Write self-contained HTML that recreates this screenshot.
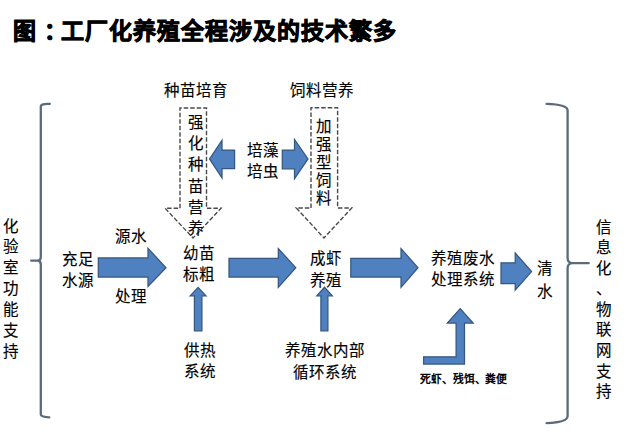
<!DOCTYPE html>
<html lang="zh-CN">
<head>
<meta charset="utf-8">
<style>
html,body{margin:0;padding:0;background:#fff;}
body{width:640px;height:442px;position:relative;overflow:hidden;font-family:"Liberation Sans",sans-serif;color:#000;}
.t{position:absolute;margin-top:2px;-webkit-text-stroke:0.15px #000;font-size:15.5px;line-height:21.2px;white-space:nowrap;}
.v{position:absolute;margin-top:2px;-webkit-text-stroke:0.15px #000;font-size:15.5px;width:16px;text-align:center;white-space:normal;word-break:break-all;}
svg{position:absolute;left:0;top:0;}
</style>
</head>
<body>
<svg width="640" height="442" viewBox="0 0 640 442">
  <g fill="none" stroke="#5a6c7b" stroke-width="2.3" stroke-linecap="round">
    <path d="M49.8 103.9 Q40.8 103.4 40.8 106.5 L40.8 257 Q40.8 260.7 37.5 260.7 L31.2 260.7 M37.5 260.7 Q40.8 260.8 40.8 264.5 L40.8 414.5 Q40.8 417 49.3 417.3"/>
    <path d="M546.6 103.9 Q567.6 104.5 567.6 110.5 L567.6 258 Q567.6 263 572.5 263.1 L588.7 263.2 M572.5 263.1 Q567.6 263.3 567.6 268.3 L567.6 416 Q567.6 422.5 546.6 423.1"/>
  </g>
  <g fill="none" stroke="#4a4a4a" stroke-width="1.4" stroke-dasharray="4.5 2">
    <path d="M180 208.3 L180 108 L206.5 108 L206.5 208.3 L221 208.3 L193 238 L165.2 208.3 Z"/>
    <path d="M311 208 L311 107.7 L337.6 107.7 L337.6 208 L351.7 208 L324 238 L296.3 208 Z"/>
  </g>
  <g fill="#4f81c0" stroke="#36577f" stroke-width="1.25" stroke-linejoin="miter">
    <path d="M98.3 257.9 L148 257.9 L148 248.3 L166 267.7 L148 286.5 L148 277 L98.3 277 Z"/>
    <path d="M229 258.4 L278.3 258.4 L278.3 248.6 L295.8 267.7 L278.3 287.3 L278.3 277 L229 277 Z"/>
    <path d="M350.8 258.4 L401 258.4 L401 248.6 L418 267.7 L401 287.3 L401 277 L350.8 277 Z"/>
    <path d="M501 262.8 L515.2 262.8 L515.2 253 L531.6 271.6 L515.2 290.2 L515.2 283.6 L501 283.6 Z"/>
    <path d="M234.6 150 L222 150 L222 140.3 L209.5 158.9 L222 178 L222 168.5 L234.6 168.5 Z"/>
    <path d="M282.3 150 L294.5 150 L294.5 139.5 L308 158.9 L294.5 178.8 L294.5 168.8 L282.3 168.8 Z"/>
    <path d="M194.4 330.8 L194.4 295.8 L190.2 295.8 L198.1 287.3 L206 295.8 L201.9 295.8 L201.9 330.8 Z"/>
    <path d="M320.9 330.8 L320.9 295.8 L316.8 295.8 L324.5 287.3 L332.3 295.8 L327.9 295.8 L327.9 330.8 Z"/>
    <path d="M423.6 356.8 L456.1 356.8 L456.1 323 L447.3 323 L460.2 308.6 L473.2 323 L464.5 323 L464.5 364 L423.6 364 Z"/>
  </g>
</svg>

<div class="t" style="left:12.5px;top:12px;font-size:23px;letter-spacing:1px;line-height:34px;font-weight:bold;color:#000;-webkit-text-stroke:0.9px #000;">图<span style="position:relative;left:7px">：</span>工厂化养殖全程涉及的技术繁多</div>

<div class="t" style="left:164px;top:78.4px;">种苗培育</div>
<div class="t" style="left:290px;top:78.4px;">饲料营养</div>

<div class="v" style="left:188px;top:110.3px;line-height:21.1px;">强化种苗营养</div>
<div class="v" style="left:316px;top:116.1px;line-height:18.1px;">加强型饲料</div>

<div class="t" style="left:247px;top:137.9px;">培藻<br>培虫</div>

<div class="t" style="left:62px;top:246.8px;">充足<br>水源</div>
<div class="t" style="left:115px;top:224.3px;">源水</div>
<div class="t" style="left:115px;top:283.7px;">处理</div>

<div class="t" style="left:183px;top:240.9px;">幼苗<br>标粗</div>
<div class="t" style="left:310px;top:246.4px;">成虾<br>养殖</div>
<div class="t" style="left:431px;top:246.2px;">养殖废水<br>处理系统</div>
<div class="v" style="left:537px;top:256.4px;line-height:22.4px;">清水</div>

<div class="t" style="left:184px;top:337.8px;">供热<br>系统</div>
<div class="t" style="left:285px;top:338.3px;text-align:center;">养殖水内部<br>循环系统</div>

<div class="t" style="left:420px;top:370px;font-size:10.8px;font-weight:bold;line-height:15px;letter-spacing:-0.1px;-webkit-text-stroke:0;">死虾、残饵、粪便</div>

<div class="v" style="left:3px;top:214.5px;line-height:20.9px;">化验室功能支持</div>
<div class="v" style="left:596px;top:215.6px;line-height:20.56px;">信<br>息<br>化<br>、<br>物<br>联<br>网<br>支<br>持</div>
</body>
</html>
